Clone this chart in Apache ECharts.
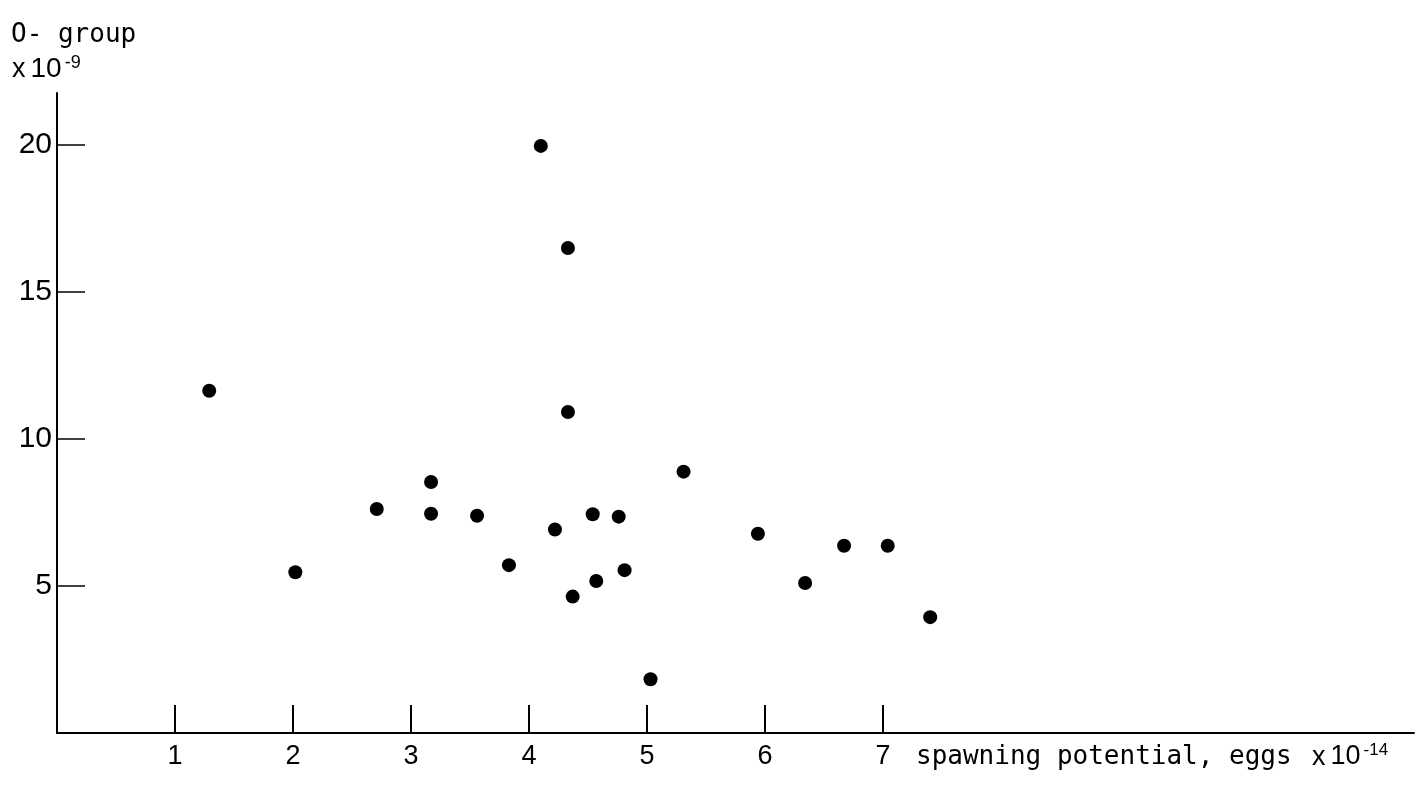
<!DOCTYPE html>
<html>
<head>
<meta charset="utf-8">
<script src="https://cdn.jsdelivr.net/npm/echarts@6/dist/echarts.min.js"></script>
<style>
  html, body { margin: 0; padding: 0; background: #ffffff; }
  #chart { width: 1426px; height: 791px; }
</style>
</head>
<body>
<div id="chart"></div>
<script>
// Spawning potential (eggs x 10^-14) against 0-group abundance (x 10^-9)
const spawningPotential = [1.29, 2.02, 2.71, 3.17, 3.17, 3.56, 3.83, 4.10, 4.33, 4.33, 4.22, 4.54,
                           4.76, 4.81, 4.57, 4.37, 5.03, 5.31, 5.94, 6.34, 6.67, 7.04, 7.40];
const oGroup = [11.64, 5.47, 7.62, 8.54, 7.46, 7.39, 5.71, 19.97, 16.5, 10.92, 6.92, 7.44,
                7.36, 5.54, 5.17, 4.64, 1.83, 8.89, 6.78, 5.10, 6.37, 6.37, 3.94];
const xTickValues = [1, 2, 3, 4, 5, 6, 7];
const yTickValues = [5, 10, 15, 20];

const points = spawningPotential.map((x, i) => [x, oGroup[i]]);

const ink = '#000000';
const font = '"Liberation Sans", Arial, sans-serif';
const wideFont = '"DejaVu Sans Mono", monospace';

const chart = echarts.init(document.getElementById('chart'), null, { renderer: 'canvas' });
chart.setOption({
  backgroundColor: '#ffffff',
  animation: false,
  grid: { left: 57, top: 93, right: 12, bottom: 58, containLabel: false },
  xAxis: {
    type: 'value',
    min: 0,
    max: 11.5,
    interval: 1,
    splitLine: { show: false },
    axisLine: { show: true, onZero: false, lineStyle: { color: ink, width: 2 } },
    axisTick: { show: true, inside: true, length: 28, customValues: xTickValues,
                lineStyle: { color: ink, width: 2 } },
    axisLabel: { show: true, customValues: xTickValues, color: ink, fontFamily: font,
                 fontSize: 27, margin: 10 }
  },
  yAxis: {
    type: 'value',
    min: 0,
    max: 21.77,
    interval: 5,
    splitLine: { show: false },
    axisLine: { show: true, onZero: false, lineStyle: { color: ink, width: 2 } },
    axisTick: { show: true, inside: true, length: 28, customValues: yTickValues,
                lineStyle: { color: ink, width: 1.5 } },
    axisLabel: { show: true, customValues: yTickValues, color: ink, fontFamily: font,
                 fontSize: 30, margin: 5 }
  },
  series: [{
    type: 'scatter',
    data: points,
    symbol: 'circle',
    symbolSize: 14,
    itemStyle: { color: ink, opacity: 1 },
    emphasis: { disabled: true }
  }],
  graphic: [
    {
      type: 'text', left: 11, top: 22,
      style: { text: 'O- group', fill: ink, font: '26px ' + wideFont }
    },
    {
      type: 'text', left: 12, top: 54,
      style: {
        text: '{t|x}{n|10}{s|-9}',
        rich: {
          t: { fontSize: 27, fontFamily: font, fill: ink, color: ink, padding: [2, 5, 0, 0] },
          n: { fontSize: 28, fontFamily: font, fill: ink, color: ink },
          s: { fontSize: 18, fontFamily: font, fill: ink, color: ink, verticalAlign: 'top', padding: [0, 0, 12, 3] }
        }
      }
    },
    {
      type: 'text', left: 916, top: 744,
      style: { text: 'spawning potential, eggs', fill: ink, font: '26px ' + wideFont }
    },
    {
      type: 'text', left: 1312, top: 742,
      style: {
        text: '{t|x}{n|10}{s|-14}',
        rich: {
          t: { fontSize: 27, fontFamily: font, fill: ink, color: ink, padding: [2, 5, 0, 0] },
          n: { fontSize: 27, fontFamily: font, fill: ink, color: ink },
          s: { fontSize: 17, fontFamily: font, fill: ink, color: ink, verticalAlign: 'top', padding: [0, 0, 12, 3] }
        }
      }
    }
  ]
});
</script>
</body>
</html>
